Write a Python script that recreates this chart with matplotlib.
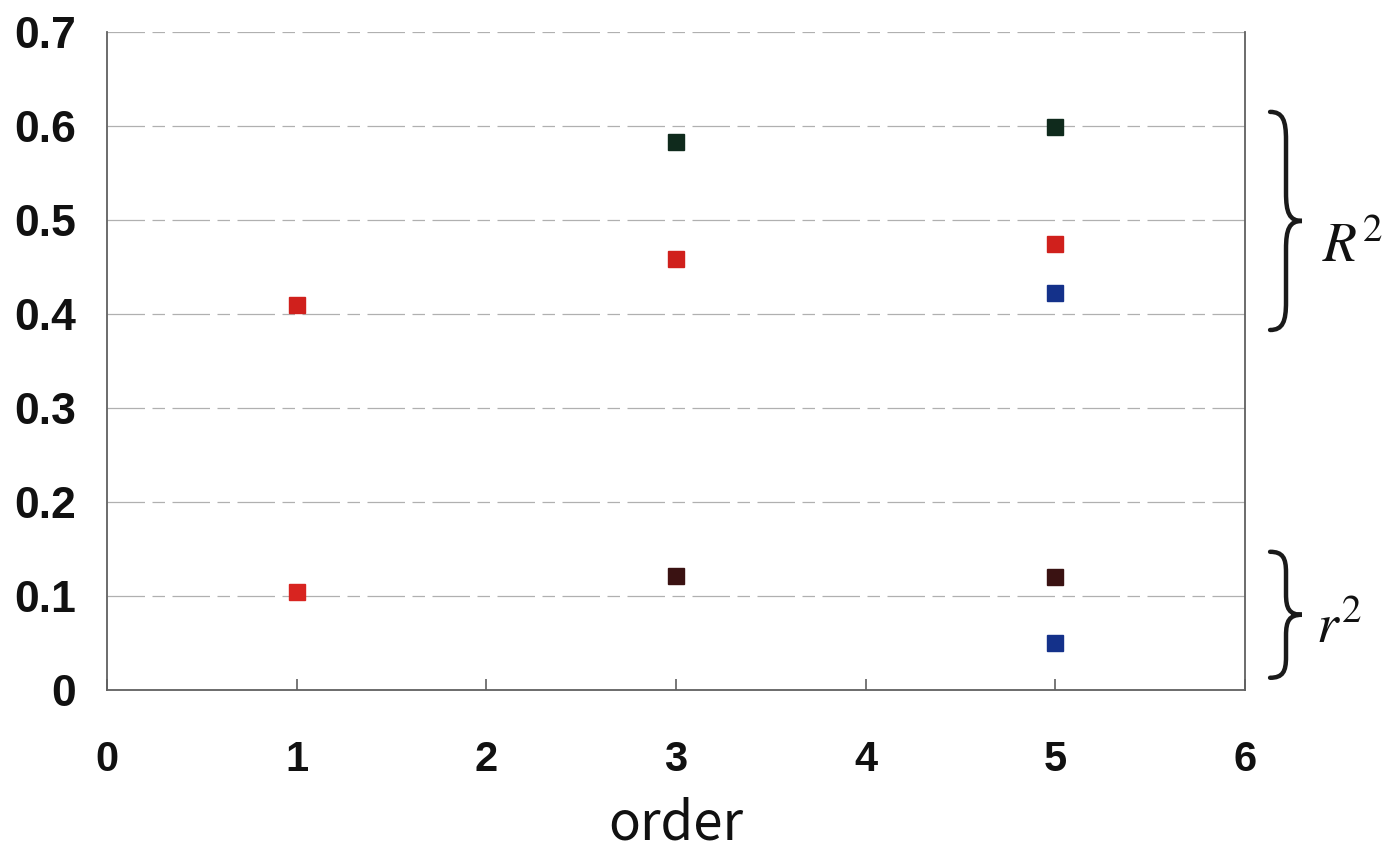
import numpy as np
import matplotlib
matplotlib.use('Agg')
import matplotlib.pyplot as plt
from matplotlib.path import Path
from matplotlib.patches import PathPatch
import matplotlib.transforms as mtransforms

# data
order_r1 = [1, 3, 5]
green_R2 = [None, 0.583, 0.599]
red_R2 = [0.410, 0.459, 0.474]
blue_R2 = [None, None, 0.422]
red_r2 = [0.104, None, None]
brown_r2 = [None, 0.121, 0.120]
blue_r2 = [None, None, 0.050]

x_ticks = [0, 1, 2, 3, 4, 5, 6]
y_ticks = [0, 0.1, 0.2, 0.3, 0.4, 0.5, 0.6, 0.7]
y_labels = ['0', '0.1', '0.2', '0.3', '0.4', '0.5', '0.6', '0.7']


def pick(xs, ys):
    pts = [(x, y) for x, y in zip(xs, ys) if y is not None]
    return [p[0] for p in pts], [p[1] for p in pts]


def brace(ax, x0, w, yt, yb, d):
    # curly brace "}" with x in axes fraction, y in data units
    xm = x0 + w * 0.5
    x2 = x0 + w
    ym = (yt + yb) / 2
    verts = [
        (x0, yt),
        (x0 + 0.8 * (xm - x0), yt), (xm, yt - 0.3 * d), (xm, yt - d),
        (xm, ym + d),
        (xm, ym + 0.3 * d), (xm + 0.2 * (x2 - xm), ym), (x2, ym),
        (xm + 0.2 * (x2 - xm), ym), (xm, ym - 0.3 * d), (xm, ym - d),
        (xm, yb + d),
        (xm, yb + 0.3 * d), (x0 + 0.8 * (xm - x0), yb), (x0, yb),
    ]
    codes = [Path.MOVETO,
             Path.CURVE4, Path.CURVE4, Path.CURVE4,
             Path.LINETO,
             Path.CURVE4, Path.CURVE4, Path.CURVE4,
             Path.CURVE4, Path.CURVE4, Path.CURVE4,
             Path.LINETO,
             Path.CURVE4, Path.CURVE4, Path.CURVE4]
    trans = mtransforms.blended_transform_factory(ax.transAxes, ax.transData)
    patch = PathPatch(Path(verts, codes), facecolor='none', edgecolor='#1a1a1a',
                      lw=3.2, transform=trans, clip_on=False, capstyle='round')
    ax.add_patch(patch)


def main():
    plt.rcParams['mathtext.fontset'] = 'stix'
    fig = plt.figure(figsize=(13.84, 8.49), dpi=100)
    ax = fig.add_axes([0.0773, 0.1873, 0.8223, 0.775])

    ms = 12
    series = [
        (order_r1, green_R2, '#0f2a1c'),
        (order_r1, red_R2, '#d0201c'),
        (order_r1, blue_R2, '#14318a'),
        (order_r1, red_r2, '#d82420'),
        (order_r1, brown_r2, '#3a1212'),
        (order_r1, blue_r2, '#14318a'),
    ]
    for xs, ys, col in series:
        px, py = pick(xs, ys)
        ax.plot(px, py, 's', color=col, ms=ms, mec=col, zorder=3)

    ax.set_xlim(0, 6)
    ax.set_ylim(0, 0.7)
    ax.set_xticks(x_ticks)
    ax.set_yticks(y_ticks)
    ax.set_yticklabels(y_labels)

    for y in y_ticks[1:]:
        ax.axhline(y, color='#b0b0b0', lw=0.9, ls=(0, (30, 6, 10, 6)), zorder=1)

    ax.spines['top'].set_visible(False)
    for s in ['left', 'right', 'bottom']:
        ax.spines[s].set_color('#606060')
        ax.spines[s].set_linewidth(1.3)

    ax.tick_params(axis='x', direction='in', length=8, width=1.2, color='#606060',
                   pad=36, labelsize=30)
    ax.tick_params(axis='y', length=0, pad=22, labelsize=32)
    for lab in ax.get_xticklabels() + ax.get_yticklabels():
        lab.set_fontfamily(['Liberation Sans', 'DejaVu Sans'])
        lab.set_fontweight('bold')
        lab.set_color('#111111')

    ax.set_xlabel('order', fontsize=38, family=['Noto Sans CJK JP', 'DejaVu Sans'],
                  labelpad=12, color='#111111')

    brace(ax, 1.022, 0.028, 0.615, 0.383, 0.03)
    brace(ax, 1.022, 0.028, 0.147, 0.013, 0.022)

    tr = mtransforms.blended_transform_factory(ax.transAxes, ax.transData)
    ax.text(1.068, 0.455, r'$R^2$', transform=tr, fontsize=40,
            ha='left', va='baseline', color='#111111')
    ax.text(1.062, 0.05, r'$r^2$', transform=tr, fontsize=40,
            ha='left', va='baseline', color='#111111')

    fig.savefig('out.png', dpi=100)


if __name__ == '__main__':
    main()
